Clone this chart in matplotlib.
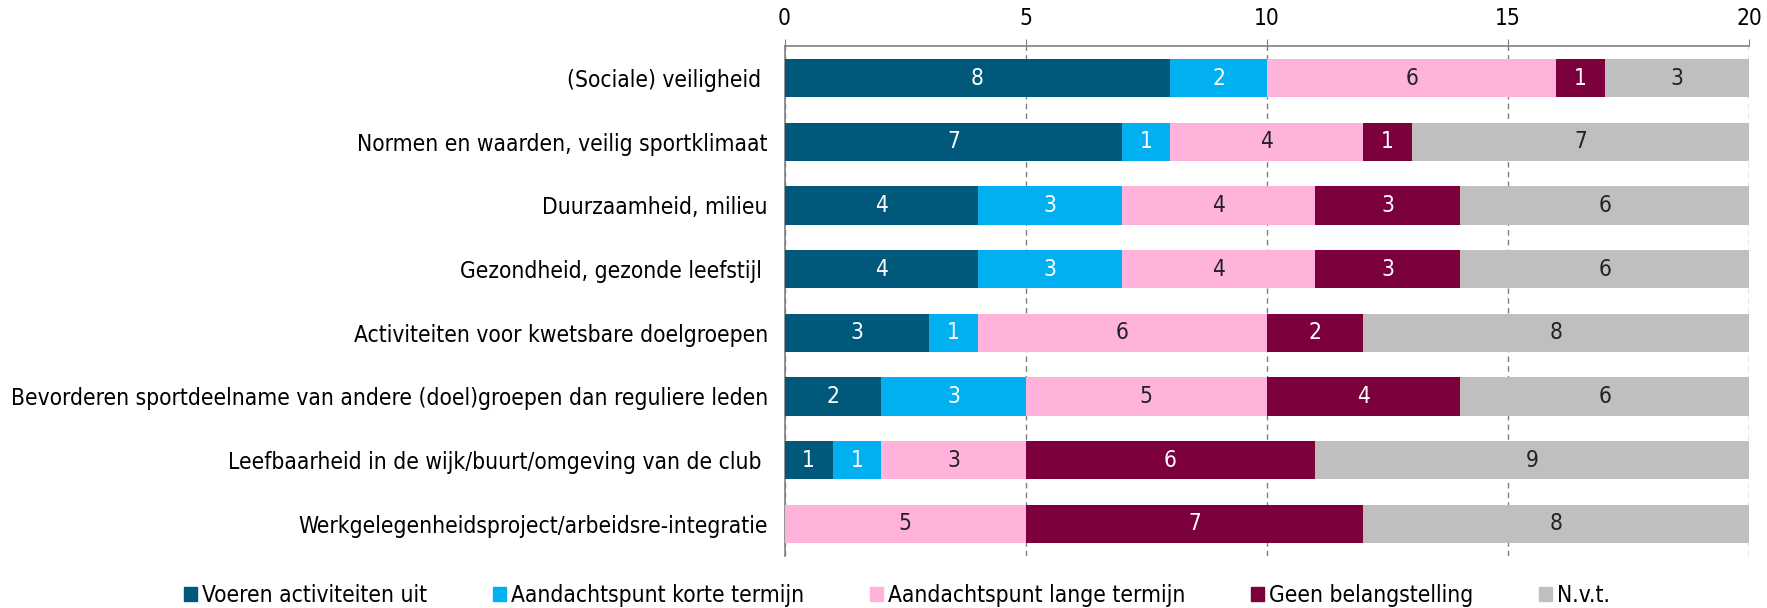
import matplotlib
matplotlib.use('Agg')
from matplotlib import pyplot as plt
from matplotlib.patches import Patch

plt.rcParams['font.family'] = ['DejaVu Sans']
plt.rcParams['font.stretch'] = 'condensed'

# categorieën en waarden
categorieen = [
    '(Sociale) veiligheid ',
    'Normen en waarden, veilig sportklimaat',
    'Duurzaamheid, milieu',
    'Gezondheid, gezonde leefstijl ',
    'Activiteiten voor kwetsbare doelgroepen',
    'Bevorderen sportdeelname van andere (doel)groepen dan reguliere leden',
    'Leefbaarheid in de wijk/buurt/omgeving van de club ',
    'Werkgelegenheidsproject/arbeidsre-integratie',
]
reeksen = ['Voeren activiteiten uit', 'Aandachtspunt korte termijn',
           'Aandachtspunt lange termijn', 'Geen belangstelling', 'N.v.t.']
voeren = [8, 7, 4, 4, 3, 2, 1, 0]
korte = [2, 1, 3, 3, 1, 3, 1, 0]
lange = [6, 4, 4, 4, 6, 5, 3, 5]
geen = [1, 1, 3, 3, 2, 4, 6, 7]
nvt = [3, 7, 6, 6, 8, 6, 9, 8]
xticks = [0, 5, 10, 15, 20]

kleuren = ['#00587A', '#00B0F0', '#FFB3DA', '#7B003C', '#BFBFBF']
tekstkleur = ['white', 'white', '#222222', 'white', '#222222']
fs = 16.3

fig = plt.figure(figsize=(17.67, 6.08), dpi=100)
ax = fig.add_axes([0.444, 0.086, 0.546, 0.838])

y = list(range(len(categorieen)))
links = [0] * len(categorieen)
for waarden, kleur, tk, naam in zip([voeren, korte, lange, geen, nvt], kleuren, tekstkleur, reeksen):
    ax.barh(y, waarden, left=links, height=0.6, color=kleur, label=naam, zorder=3)
    for i, w in enumerate(waarden):
        if w > 0:
            ax.text(links[i] + w / 2, i, str(w), ha='center', va='center',
                    color=tk, fontsize=fs, zorder=4)
    links = [l + w for l, w in zip(links, waarden)]

ax.set_xlim(0, 20)
ax.set_ylim(len(categorieen) - 0.5, -0.5)
ax.set_xticks(xticks)
ax.xaxis.tick_top()
ax.tick_params(axis='x', length=5, color='#808080', pad=7, labelsize=fs)
ax.set_yticks(y)
ax.set_yticklabels(categorieen, fontsize=fs)
ax.tick_params(axis='y', length=0, pad=12)
ax.grid(axis='x', color='#808080', linestyle=(0, (4, 3)), linewidth=1, zorder=1)
for s in ['right', 'bottom']:
    ax.spines[s].set_visible(False)
for s in ['left', 'top']:
    ax.spines[s].set_color('#808080')
    ax.spines[s].set_linewidth(1.2)

handles = [Patch(color=k) for k in kleuren]
fig.legend(handles, reeksen, loc='center left', bbox_to_anchor=(0.104, 0.021), ncol=5,
           frameon=False, fontsize=fs, handlelength=0.6, handleheight=0.6,
           handletextpad=0.2, columnspacing=2.9, borderpad=0, borderaxespad=0)

fig.savefig('out.png')
